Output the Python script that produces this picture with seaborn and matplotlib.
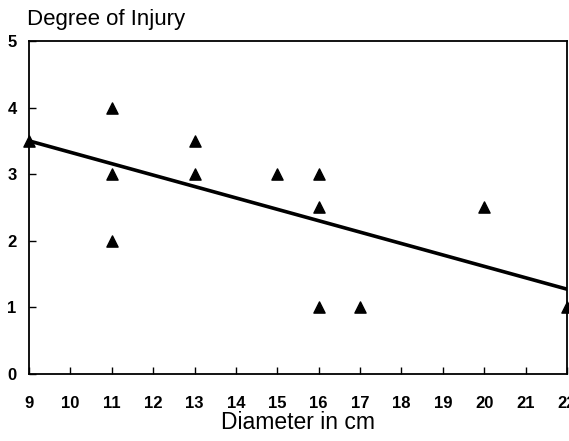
import pandas as pd
import matplotlib.pyplot as plt
import seaborn as sns

# values
diameter = [9, 11, 11, 11, 13, 13, 15, 16, 16, 16, 17, 20, 22]
injury = [3.5, 4, 3, 2, 3.5, 3, 3, 3, 2.5, 1, 1, 2.5, 1]
x_ticks = list(range(9, 23))
y_ticks = [0, 1, 2, 3, 4, 5]

data = pd.DataFrame({'Diameter': diameter, 'Injury': injury})

sns.set_style('ticks')
plt.rcParams['font.family'] = ['Liberation Sans', 'DejaVu Sans']
plt.rcParams['text.color'] = 'black'
plt.rcParams['axes.labelcolor'] = 'black'

fig = plt.figure(figsize=(5.69, 4.41), dpi=100)
ax = fig.add_axes([0.051, 0.152, 0.9455, 0.755])

sns.regplot(
    data=data,
    x='Diameter',
    y='Injury',
    ci=None,
    truncate=True,
    marker='^',
    scatter_kws={'s': 65, 'color': 'black', 'edgecolors': 'black', 'alpha': 1,
                 'clip_on': False, 'zorder': 3},
    line_kws={'color': 'black', 'linewidth': 2.6},
    ax=ax
)

ax.set_xlim(9, 22)
ax.set_ylim(0, 5)
ax.set_xticks(x_ticks)
ax.set_yticks(y_ticks)
ax.tick_params(direction='in', length=5, width=1, labelsize=12, colors='black')
ax.tick_params(axis='x', pad=16)
ax.tick_params(axis='y', pad=9)
for lab in ax.get_xticklabels() + ax.get_yticklabels():
    lab.set_fontweight('bold')
for sp in ax.spines.values():
    sp.set_linewidth(1.3)
    sp.set_color('black')

ax.set_xlabel('Diameter in cm', fontsize=16.5, labelpad=0)
ax.set_ylabel('')
fig.text(0.048, 0.955, 'Degree of Injury', fontsize=16, ha='left', va='center')

fig.savefig('out.png', dpi=100)
